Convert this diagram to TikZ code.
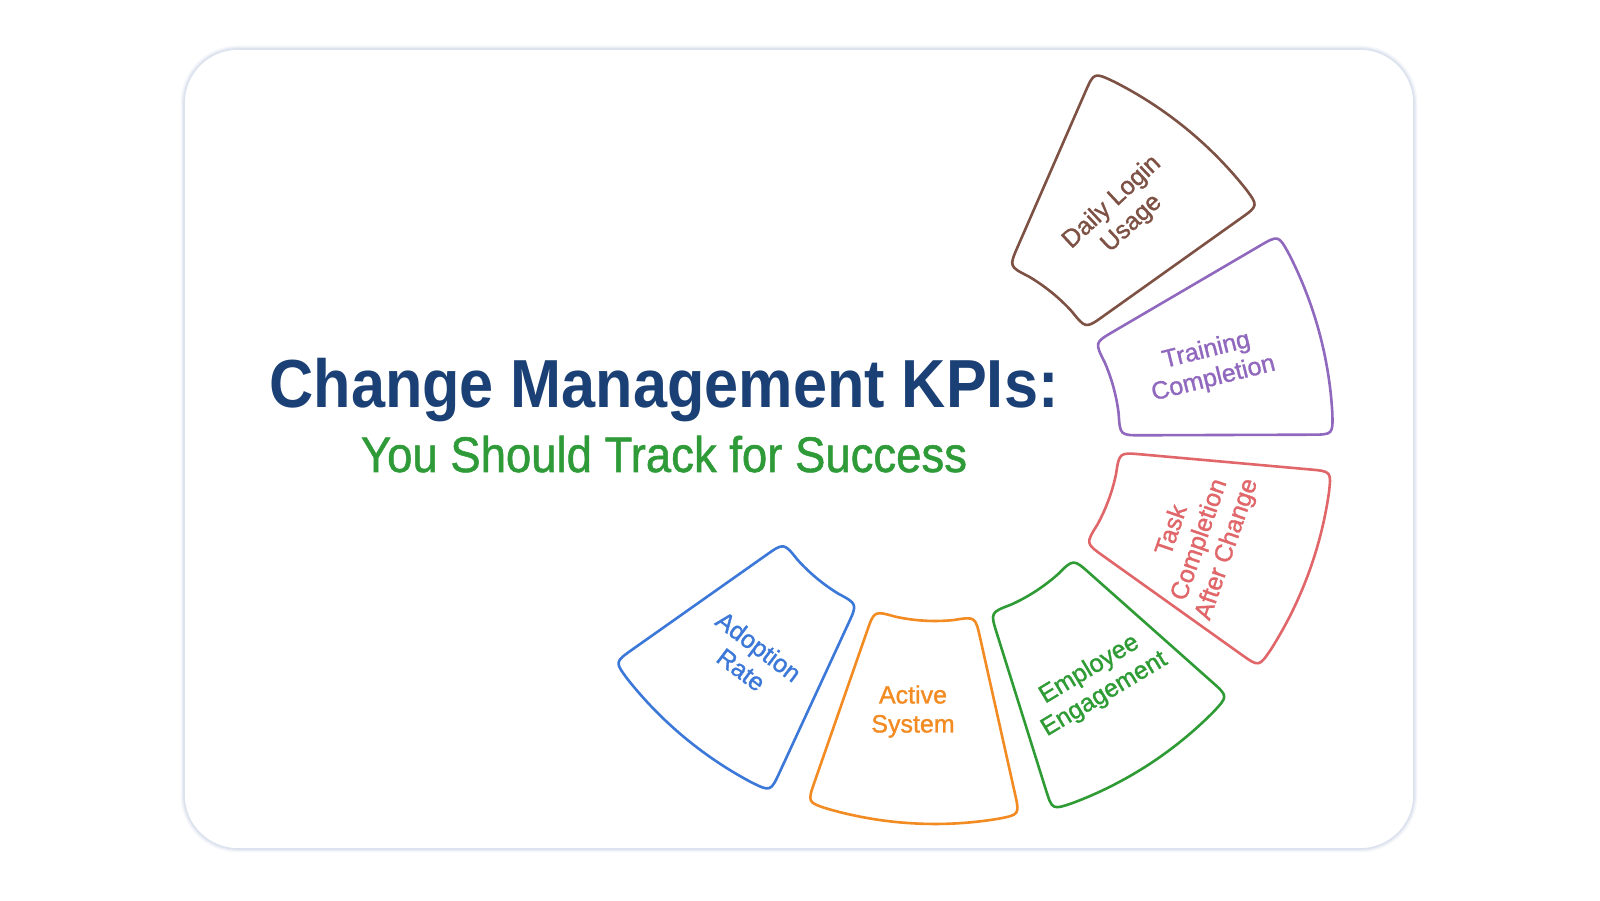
\documentclass[tikz,border=0pt]{standalone}
\usepackage{fontspec}
\setmainfont{Liberation Sans}
\newfontfamily\labfont{Liberation Sans}[FakeBold=1.2]
\newfontfamily\subfont{Liberation Sans}[FakeBold=1.1]
\usetikzlibrary{calc}
\definecolor{cardline}{HTML}{DCE3EE}
\definecolor{titleblue}{HTML}{1B4075}
\definecolor{subgreen}{HTML}{2E9B38}
\definecolor{kblue}{HTML}{3C78D8}
\definecolor{korange}{HTML}{F28B22}
\definecolor{kgreen}{HTML}{2F9B35}
\definecolor{kred}{HTML}{E0666A}
\definecolor{kpurple}{HTML}{9068BE}
\definecolor{kbrown}{HTML}{7E5145}
% annular sector with rounded corners: #1 start angle, #2 end angle, #3 outer radius, #4 colour
\newcommand\kpiseg[4]{%
  \pgfmathsetmacro\kpA{#1}\pgfmathsetmacro\kpB{#2}%
  \pgfmathsetmacro\kpR{#3}\pgfmathsetmacro\kpRi{#3-22}%
  \pgfmathsetmacro\kpAI{#1+6.81}\pgfmathsetmacro\kpBI{#2-6.81}%
  \pgfmathsetmacro\kpAO{#1+1260.5/#3}\pgfmathsetmacro\kpBO{#2-1260.5/#3}%
  \draw[segline,#4] ($(O)+(\kpAI:185)$) arc[start angle=\kpAI,end angle=\kpBI,radius=185]
    .. controls ($(O)+(\kpB:185)$) .. ($(O)+(\kpB:207)$)
    -- ($(O)+(\kpB:\kpRi)$)
    .. controls ($(O)+(\kpB:\kpR)$) .. ($(O)+(\kpBO:\kpR)$)
    arc[start angle=\kpBO,end angle=\kpAO,radius=\kpR]
    .. controls ($(O)+(\kpA:\kpR)$) .. ($(O)+(\kpA:\kpRi)$)
    -- ($(O)+(\kpA:207)$)
    .. controls ($(O)+(\kpA:185)$) .. ($(O)+(\kpAI:185)$) -- cycle;}
\begin{document}
\begin{tikzpicture}[x=1pt,y=1pt,
  segline/.style={line width=2.6pt,line join=round},
  kpilabel/.style={font=\labfont\fontsize{25}{29}\selectfont,align=center,inner sep=0pt}]
\useasboundingbox (0,0) rectangle (1600,901);
\fill[white] (0,0) rectangle (1600,901);
% card with soft glow
\draw[line width=7pt,cardline,opacity=0.25,rounded corners=54] (184,52) rectangle (1414,852);
\draw[line width=4pt,cardline,opacity=0.45,rounded corners=54] (184,52) rectangle (1414,852);
\draw[line width=1.6pt,cardline,fill=white,rounded corners=54] (184,52) rectangle (1414,852);
\coordinate (O) at (935,465);
% segments
\kpiseg{-144.8}{-114.8}{392}{kblue}
\kpiseg{-109.2}{-77.4}{388}{korange}
\kpiseg{-72.6}{-41.6}{392}{kgreen}
\kpiseg{-35.5}{-5.1}{398}{kred}
\kpiseg{0.2}{30.35}{398}{kpurple}
\kpiseg{35.45}{66.4}{397}{kbrown}
% labels
\node[kpilabel,text=kblue,rotate=-37] (lblue) at (750,243) {Adoption\\Rate};
\node[kpilabel,text=korange] (lorange) at (913,189.5) {Active\\System};
\node[kpilabel,text=kgreen,rotate=31] (lgreen) at (1097,219) {Employee\\Engagement};
\node[kpilabel,text=kred,rotate=71] (lred) at (1200,361) {Task\\Completion\\After Change};
\node[kpilabel,text=kpurple,rotate=14] (lpurple) at (1210,536) {Training\\Completion};
\node[kpilabel,text=kbrown,rotate=43] (lbrown) at (1122,688) {Daily Login\\Usage};
% titles
\node[anchor=base,xscale=0.9,inner sep=0pt,text=titleblue,font=\bfseries\fontsize{68}{80}\selectfont] (title) at (664,493) {Change Management KPIs:};
\node[anchor=base,xscale=0.91,inner sep=0pt,text=subgreen,font=\subfont\fontsize{50}{60}\selectfont] (subtitle) at (664,429) {You Should Track for Success};
\end{tikzpicture}
\end{document}
